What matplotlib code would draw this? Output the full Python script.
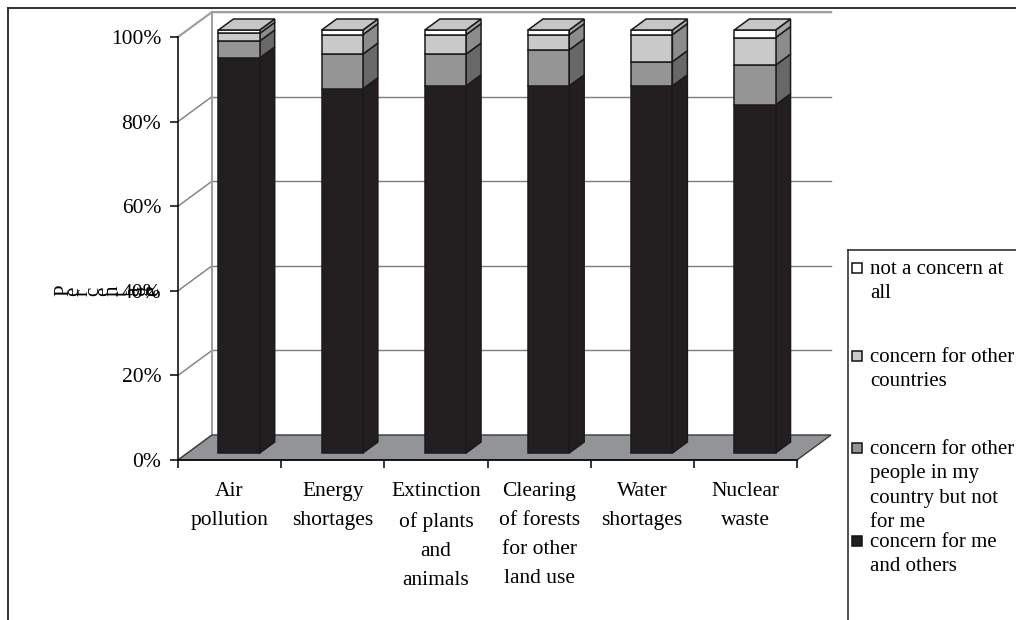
import matplotlib.pyplot as plt
from matplotlib.patches import Polygon, Rectangle
from matplotlib.lines import Line2D

plt.rcParams['font.family'] = ['Liberation Serif', 'DejaVu Serif']

# survey results, share of respondents (%) per level of concern
categories = ['Air\npollution', 'Energy\nshortages', 'Extinction\nof plants\nand\nanimals',
              'Clearing\nof forests\nfor other\nland use', 'Water\nshortages', 'Nuclear\nwaste']
me_and_others = [93.4, 86.1, 86.8, 86.8, 86.8, 82.3]
others_in_country = [4.0, 8.2, 7.5, 8.5, 5.7, 9.4]
other_countries = [1.8, 4.6, 4.6, 3.6, 6.4, 6.5]
not_a_concern = [0.8, 1.1, 1.1, 1.1, 1.1, 1.8]

series = [me_and_others, others_in_country, other_countries, not_a_concern]
series_labels = ['concern for me\nand others',
                 'concern for other\npeople in my\ncountry but not\nfor me',
                 'concern for other\ncountries',
                 'not a concern at\nall']
# front, side, top colours of each series
front_cols = ['#231f20', '#959595', '#c9c9c9', '#ffffff']
side_cols = ['#231f20', '#686868', '#8c8c8c', '#a5a5a5']
top_cols = ['#231f20', '#959595', '#c4c4c4', '#c6c6c6']

W, H = 1016, 620
fig = plt.figure(figsize=(W / 100, H / 100), dpi=100)
# axes = front plane of the 3d box
ax_l, ax_b, ax_w, ax_h = 178, 160, 619, 423
ax = fig.add_axes([ax_l / W, ax_b / H, ax_w / W, ax_h / H])
n = len(categories)
ax.set_xlim(0, n)
ax.set_ylim(0, 100)
ax.patch.set_visible(False)

# depth of the box in data units
DX = 34 * n / ax_w
DY = 25 * 100 / ax_h
F0, F1 = 0.28, 0.72   # depth range occupied by the bars

# floor and walls
ax.add_patch(Polygon([(0, 0), (n, 0), (n + DX, DY), (DX, DY)], closed=True,
                     facecolor='#929497', edgecolor='#3a3a3a', lw=1, zorder=1, clip_on=False))
grid_c = '#7d7d7d'
for v in range(0, 101, 20):
    ax.add_line(Line2D([0, DX], [v, v + DY], color=grid_c, lw=1, zorder=0.8, clip_on=False))
    if v > 0:
        ax.add_line(Line2D([DX, n + DX], [v + DY, v + DY], color=grid_c, lw=1, zorder=0.8, clip_on=False))
ax.add_line(Line2D([DX, DX], [DY, 100 + DY], color='#a0a0a0', lw=1.5, zorder=0.8, clip_on=False))
ax.add_line(Line2D([0, DX], [100, 100 + DY], color='#a0a0a0', lw=1.5, zorder=0.8, clip_on=False))
ax.add_line(Line2D([DX, n + DX], [100 + DY, 100 + DY], color='#a0a0a0', lw=1.5, zorder=0.8, clip_on=False))

# 3d stacked bars
ox0, oy0 = F0 * DX, F0 * DY
bdx, bdy = (F1 - F0) * DX, (F1 - F0) * DY
for i in range(n):
    x0 = i + 0.3 + ox0
    x1 = i + 0.7 + ox0
    base = 0
    for s, vals in enumerate(series):
        top = base + vals[i]
        y0, y1 = base + oy0, top + oy0
        kw = dict(edgecolor='#1a1a1a', lw=1.1, zorder=3, clip_on=False, joinstyle='miter')
        ax.add_patch(Polygon([(x1, y0), (x1 + bdx, y0 + bdy), (x1 + bdx, y1 + bdy), (x1, y1)],
                             facecolor=side_cols[s], **kw))
        ax.add_patch(Rectangle((x0, y0), x1 - x0, y1 - y0, facecolor=front_cols[s], **kw))
        if s == len(series) - 1:
            ax.add_patch(Polygon([(x0, y1), (x1, y1), (x1 + bdx, y1 + bdy), (x0 + bdx, y1 + bdy)],
                                 facecolor=top_cols[s], **kw))
        base = top

# axes, ticks and labels
for side in ['top', 'right']:
    ax.spines[side].set_visible(False)
for side in ['left', 'bottom']:
    ax.spines[side].set_linewidth(1.1)
    ax.spines[side].set_zorder(2)
ax.set_yticks(range(0, 101, 20))
ax.set_yticklabels([f'{v}%' for v in range(0, 101, 20)], fontsize=15.5)
ax.tick_params(axis='y', direction='out', length=6, width=1.1, pad=6)
ax.set_xticks(range(n + 1))
ax.set_xticklabels([])
ax.set_xticks([i + 0.5 for i in range(n)], minor=True)
ax.set_xticklabels(categories, minor=True, fontsize=15.5, linespacing=1.72, va='top')
ax.tick_params(axis='x', which='major', direction='out', length=6, width=1.1)
ax.tick_params(axis='x', which='minor', length=0, pad=16)

# y axis title, glyphs laid out sideways
title = 'Percentage'
for k, ch in enumerate(title):
    fig.text((68 + k * 10) / W, 1 - 296 / H, ch, rotation=90, rotation_mode='anchor',
             fontsize=15, ha='left', va='baseline')

# legend
def fx(px):
    return px / W


def fy(py):
    return 1 - py / H


fig.add_artist(Line2D([fx(848), fx(848)], [fy(250), fy(620)], color='#333333', lw=1.2))
fig.add_artist(Line2D([fx(848), fx(1016)], [fy(250), fy(250)], color='#333333', lw=1.2))
leg_y = [268, 356, 448, 541]
leg_order = [3, 2, 1, 0]
for yy, s in zip(leg_y, leg_order):
    fig.add_artist(Rectangle((fx(852), fy(yy + 5)), 10 / W, 10 / H, facecolor=front_cols[s],
                             edgecolor='#111111', lw=1.1))
    fig.text(fx(870), fy(yy - 8), series_labels[s], fontsize=15, ha='left', va='top',
             linespacing=1.38)

# outer frame
fig.add_artist(Line2D([fx(8), fx(1016)], [fy(8), fy(8)], color='#222222', lw=1.3))
fig.add_artist(Line2D([fx(8), fx(8)], [fy(8), fy(620)], color='#222222', lw=1.3))

fig.savefig('out.png', dpi=100)
